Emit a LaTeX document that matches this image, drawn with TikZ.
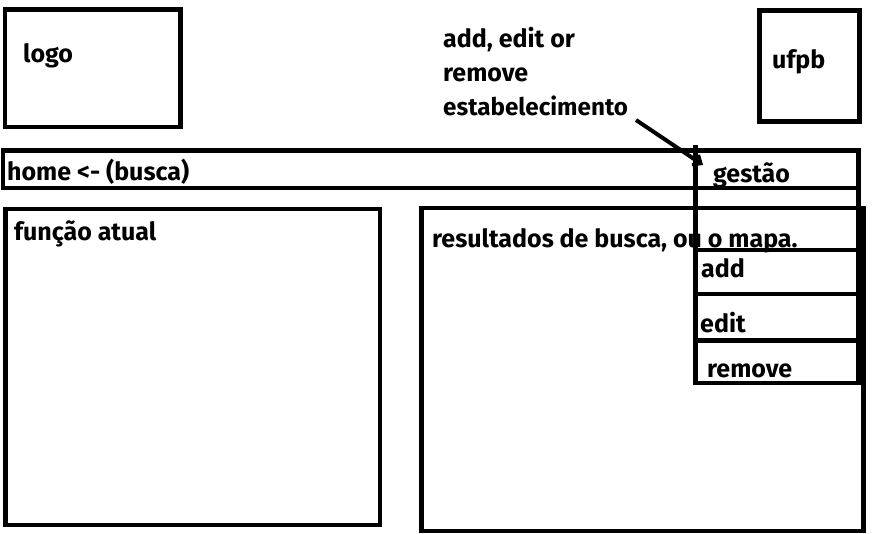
\documentclass[tikz,border=0pt]{standalone}
\usepackage{fontspec}
\setmainfont{Fira Sans}
\usetikzlibrary{arrows.meta}
\tikzset{
  box/.style={draw=black, line width=4.8pt},
  sep/.style={draw=black, line width=4.8pt},
  lbl/.style={anchor=base west, inner sep=0pt, font=\fontsize{25}{28}\selectfont\bfseries},
  pointer/.style={draw=black, line width=4pt, -{Straight Barb[length=7pt,width=12pt,line width=3pt]}}
}
\begin{document}
\begin{tikzpicture}[x=1pt,y=-1pt]
\useasboundingbox (0,0) rectangle (875,533);
\fill[white] (0,0) rectangle (875,533);
% texts
\node[lbl] (logo) at (23,62) {logo};
\node[lbl] (ufpb) at (772,68) {ufpb};
\node[lbl] (n1) at (443,47) {add, edit or};
\node[lbl] (n2) at (443,81) {remove};
\node[lbl, font=\fontsize{24.2}{28}\selectfont\bfseries] (n3) at (443,115) {estabelecimento};
\node[lbl] (home) at (7,180) {home <- (busca)};
\node[lbl] (gestao) at (713,182) {gestão};
\node[lbl] (funcao) at (14,240) {função atual};
\node[lbl] (result) at (432,247) {resultados de busca, ou o mapa.};
\node[lbl] (add) at (701,277) {add};
\node[lbl] (edit) at (700,332) {edit};
\node[lbl] (remove) at (707,377) {remove};
% boxes
\draw[box] (5,9.5) rectangle (180.5,127);
\draw[box] (759.5,10.5) rectangle (859.5,121.5);
\draw[box] (3,150.5) rectangle (858.5,188);
\draw[box] (5.5,209) rectangle (380,525);
\draw[box] (421.5,208) rectangle (863.5,531);
% dropdown
\draw[box] (695.5,145) -- (695.5,383) -- (858.5,383) -- (858.5,150.5);
\draw[sep] (695.5,250) -- (858.5,250);
\draw[sep] (695.5,294) -- (858.5,294);
\draw[sep] (695.5,340.5) -- (858.5,340.5);
% arrow
\coordinate (arrowstart) at (636,120);
\coordinate (arrowend) at (703,165);
\draw[pointer] (arrowstart) -- (arrowend);
\end{tikzpicture}
\end{document}
